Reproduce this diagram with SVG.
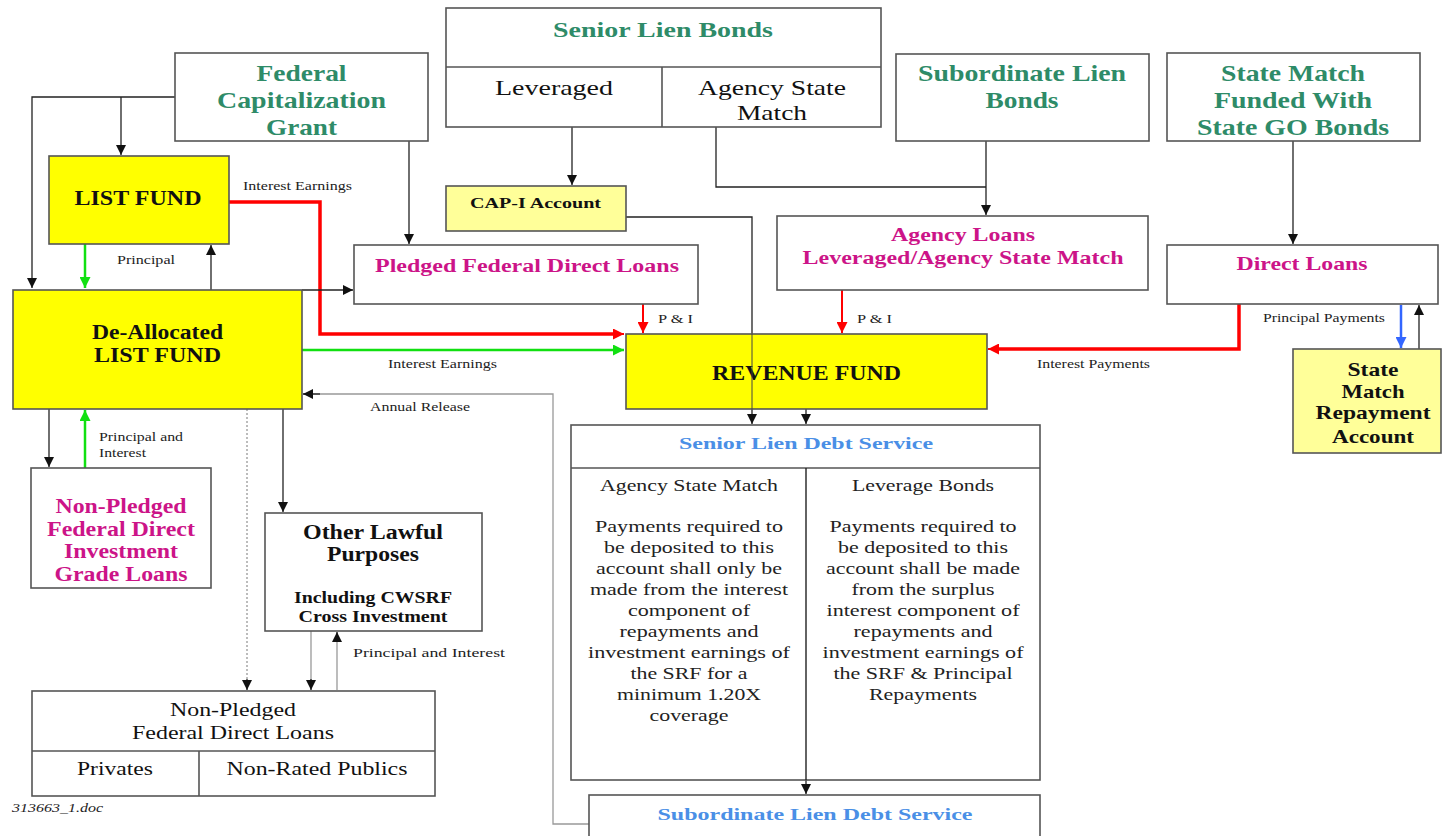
<svg xmlns="http://www.w3.org/2000/svg" width="1442" height="836" viewBox="0 0 1442 836">
<style>
.bx{fill:#fff;stroke:#555;stroke-width:1.6}
.yl{fill:#ffff00;stroke:#555;stroke-width:1.6}
.ly{fill:#ffff99;stroke:#555;stroke-width:1.6}
.dv{stroke:#555;stroke-width:1.6;fill:none}
text{font-family:"Liberation Serif","Times New Roman",serif}
.b{font-weight:bold}
.g{fill:#2e8b68}
.m{fill:#cc1488}
.bl{fill:#4a8fe6}
.k{fill:#111}
.s{font-size:12px;fill:#222}
.c{text-anchor:middle}
.p{font-size:16px;fill:#222;text-anchor:middle}
.ln{fill:none;stroke:#222;stroke-width:1.3}
.gr{fill:none;stroke:#999;stroke-width:1.3}
.rd{fill:none;stroke:#ff0000;stroke-width:2}
.rdt{fill:none;stroke:#ff0000;stroke-width:3.5}
.gn{fill:none;stroke:#11e011;stroke-width:2.5}
.bu{fill:none;stroke:#3366ff;stroke-width:2.5}
</style>
<defs>
<marker id="ak" viewBox="0 0 10 10" refX="10" refY="5" markerWidth="10" markerHeight="10" markerUnits="userSpaceOnUse" orient="auto"><path d="M0,0 L10,5 L0,10 z" fill="#111"/></marker>
<marker id="ar" viewBox="0 0 10 10" refX="10" refY="5" markerWidth="11" markerHeight="11" markerUnits="userSpaceOnUse" orient="auto"><path d="M0,0 L10,5 L0,10 z" fill="#ff0000"/></marker>
<marker id="ag" viewBox="0 0 10 10" refX="10" refY="5" markerWidth="11" markerHeight="11" markerUnits="userSpaceOnUse" orient="auto"><path d="M0,0 L10,5 L0,10 z" fill="#11e011"/></marker>
<marker id="ab" viewBox="0 0 10 10" refX="10" refY="5" markerWidth="11" markerHeight="11" markerUnits="userSpaceOnUse" orient="auto"><path d="M0,0 L10,5 L0,10 z" fill="#3366ff"/></marker>
</defs>
<rect width="1442" height="836" fill="#fff"/>

<g id="connectors">
<path class="ln" d="M175,97 H32 V288" marker-end="url(#ak)"/>
<path class="ln" d="M121,97 V155" marker-end="url(#ak)"/>
<path class="ln" d="M409,141 V244" marker-end="url(#ak)"/>
<path class="rdt" d="M229,202 H320 V334 H616"/>
<path class="rd" d="M612,334 H624" marker-end="url(#ar)"/>
<path class="gn" d="M85,244 V288" marker-end="url(#ag)"/>
<path class="ln" d="M211,290 V245" marker-end="url(#ak)"/>
<path class="ln" d="M302,290 H353" marker-end="url(#ak)"/>
<path class="ln" d="M572,127 V185" marker-end="url(#ak)"/>
<path class="ln" d="M716,127 V187 H986"/>
<path class="ln" d="M986,141 V215" marker-end="url(#ak)"/>
<path class="ln" d="M1293,141 V244" marker-end="url(#ak)"/>
<path class="ln" d="M626,217 H752 V424" marker-end="url(#ak)"/>
<path class="rd" d="M643,304 V333" marker-end="url(#ar)"/>
<path class="rd" d="M842,290 V333" marker-end="url(#ar)"/>
<path class="rdt" d="M1239,304 V349 H996"/>
<path class="rd" d="M1000,349 H988" marker-end="url(#ar)"/>
<path class="bu" d="M1401,305 V348" marker-end="url(#ab)"/>
<path class="ln" d="M1419,349 V305" marker-end="url(#ak)"/>
<path class="gn" d="M302,350 H624" marker-end="url(#ag)"/>
<path class="ln" d="M806,409 V424" marker-end="url(#ak)"/>
<path class="gr" d="M589,824 H553 V394 H303"/>
<path class="ln" d="M320,394 H303" marker-end="url(#ak)"/>
<path class="ln" d="M49,409 V467" marker-end="url(#ak)"/>
<path class="gn" d="M85,468 V410" marker-end="url(#ag)"/>
<path class="gr" d="M247,409 V680" stroke-dasharray="2,2"/>
<path class="ln" d="M247,679 V690" marker-end="url(#ak)"/>
<path class="ln" d="M283,409 V512" marker-end="url(#ak)"/>
<path class="gr" d="M311,631 V680"/>
<path class="ln" d="M311,679 V690" marker-end="url(#ak)"/>
<path class="gr" d="M337,690 V640"/>
<path class="ln" d="M337,642 V632" marker-end="url(#ak)"/>
<path class="ln" d="M806,780 V794" marker-end="url(#ak)"/>
</g>

<g id="federal-cap-grant">
<rect class="bx" x="175" y="53" width="253" height="88"/>
<text class="b g c" font-size="23" x="301.5" y="81" textLength="90" lengthAdjust="spacingAndGlyphs">Federal</text>
<text class="b g c" font-size="23" x="301.5" y="108" textLength="169" lengthAdjust="spacingAndGlyphs">Capitalization</text>
<text class="b g c" font-size="23" x="301.5" y="135" textLength="71" lengthAdjust="spacingAndGlyphs">Grant</text>
</g>

<g id="senior-lien-bonds">
<rect class="bx" x="446" y="8" width="435" height="119"/>
<path class="dv" d="M446,67 H881 M662,67 V127"/>
<text class="b g c" font-size="21" x="663" y="37" textLength="220" lengthAdjust="spacingAndGlyphs">Senior Lien Bonds</text>
<text class="k c" font-size="22" x="554" y="95" textLength="118" lengthAdjust="spacingAndGlyphs">Leveraged</text>
<text class="k c" font-size="22" x="772" y="95" textLength="148" lengthAdjust="spacingAndGlyphs">Agency State</text>
<text class="k c" font-size="22" x="772" y="120" textLength="70" lengthAdjust="spacingAndGlyphs">Match</text>
</g>

<g id="subordinate-lien-bonds">
<rect class="bx" x="896" y="54" width="253" height="87"/>
<text class="b g c" font-size="23" x="1022" y="81" textLength="208" lengthAdjust="spacingAndGlyphs">Subordinate Lien</text>
<text class="b g c" font-size="23" x="1022" y="108" textLength="73" lengthAdjust="spacingAndGlyphs">Bonds</text>
</g>

<g id="state-match-go">
<rect class="bx" x="1167" y="53" width="253" height="88"/>
<text class="b g c" font-size="23" x="1293" y="81" textLength="144" lengthAdjust="spacingAndGlyphs">State Match</text>
<text class="b g c" font-size="23" x="1293" y="108" textLength="158" lengthAdjust="spacingAndGlyphs">Funded With</text>
<text class="b g c" font-size="23" x="1293" y="135" textLength="192" lengthAdjust="spacingAndGlyphs">State GO Bonds</text>
</g>

<g id="list-fund">
<rect class="yl" x="49" y="156" width="180" height="88"/>
<text class="b k c" font-size="20" x="138" y="205" textLength="127" lengthAdjust="spacingAndGlyphs">LIST FUND</text>
</g>

<g id="cap-i">
<rect class="ly" x="446" y="186" width="180" height="45"/>
<text class="b k c" font-size="14" x="535.5" y="208" textLength="131" lengthAdjust="spacingAndGlyphs">CAP-I Account</text>
</g>

<g id="pledged">
<rect class="bx" x="354" y="245" width="344" height="59"/>
<text class="b m c" font-size="18" x="527" y="272" textLength="304" lengthAdjust="spacingAndGlyphs">Pledged Federal Direct Loans</text>
</g>

<g id="agency-loans">
<rect class="bx" x="777" y="216" width="371" height="74"/>
<text class="b m c" font-size="19" x="963" y="241" textLength="144" lengthAdjust="spacingAndGlyphs">Agency Loans</text>
<text class="b m c" font-size="19" x="963" y="264" textLength="321" lengthAdjust="spacingAndGlyphs">Leveraged/Agency State Match</text>
</g>

<g id="direct-loans">
<rect class="bx" x="1167" y="245" width="271" height="59"/>
<text class="b m c" font-size="19" x="1302" y="270" textLength="131" lengthAdjust="spacingAndGlyphs">Direct Loans</text>
</g>

<g id="de-allocated">
<rect class="yl" x="13" y="290" width="289" height="119"/>
<text class="b k c" font-size="20" x="157.5" y="339" textLength="131" lengthAdjust="spacingAndGlyphs">De-Allocated</text>
<text class="b k c" font-size="20" x="157.5" y="362" textLength="127" lengthAdjust="spacingAndGlyphs">LIST FUND</text>
</g>

<g id="revenue-fund">
<rect class="yl" x="626" y="334" width="361" height="75"/>
<text class="b k c" font-size="20" x="806.5" y="380" textLength="189" lengthAdjust="spacingAndGlyphs">REVENUE FUND</text>
</g>
<path d="M752,334 V409" stroke="#444" stroke-width="1" fill="none"/>

<g id="state-match-repayment">
<rect class="ly" x="1293" y="349" width="148" height="104"/>
<text class="b k c" font-size="19" x="1373" y="376" textLength="51" lengthAdjust="spacingAndGlyphs">State</text>
<text class="b k c" font-size="19" x="1373" y="398" textLength="63" lengthAdjust="spacingAndGlyphs">Match</text>
<text class="b k c" font-size="19" x="1373" y="419" textLength="115" lengthAdjust="spacingAndGlyphs">Repayment</text>
<text class="b k c" font-size="19" x="1373" y="443" textLength="82" lengthAdjust="spacingAndGlyphs">Account</text>
</g>

<g id="non-pledged-investment">
<rect class="bx" x="31" y="468" width="180" height="120"/>
<text class="b m c" font-size="20" x="121" y="513" textLength="131" lengthAdjust="spacingAndGlyphs">Non-Pledged</text>
<text class="b m c" font-size="20" x="121" y="536" textLength="148" lengthAdjust="spacingAndGlyphs">Federal Direct</text>
<text class="b m c" font-size="20" x="121" y="558" textLength="114" lengthAdjust="spacingAndGlyphs">Investment</text>
<text class="b m c" font-size="20" x="121" y="581" textLength="133" lengthAdjust="spacingAndGlyphs">Grade Loans</text>
</g>

<g id="other-lawful">
<rect class="bx" x="265" y="513" width="217" height="118"/>
<text class="b k c" font-size="20" x="373" y="539" textLength="140" lengthAdjust="spacingAndGlyphs">Other Lawful</text>
<text class="b k c" font-size="20" x="373" y="561" textLength="92" lengthAdjust="spacingAndGlyphs">Purposes</text>
<text class="b k c" font-size="16" x="373" y="603" textLength="158" lengthAdjust="spacingAndGlyphs">Including CWSRF</text>
<text class="b k c" font-size="16" x="373" y="622" textLength="149" lengthAdjust="spacingAndGlyphs">Cross Investment</text>
</g>

<g id="non-pledged-loans">
<rect class="bx" x="32" y="691" width="403" height="105"/>
<path class="dv" d="M32,751 H435 M199,751 V796"/>
<text class="k c" font-size="19" x="233" y="716" textLength="126" lengthAdjust="spacingAndGlyphs">Non-Pledged</text>
<text class="k c" font-size="19" x="233" y="739" textLength="202" lengthAdjust="spacingAndGlyphs">Federal Direct Loans</text>
<text class="k c" font-size="19" x="115" y="775" textLength="76" lengthAdjust="spacingAndGlyphs">Privates</text>
<text class="k c" font-size="19" x="317" y="775" textLength="181" lengthAdjust="spacingAndGlyphs">Non-Rated Publics</text>
</g>

<g id="senior-debt-service">
<rect class="bx" x="571" y="425" width="469" height="355"/>
<path class="dv" d="M571,468 H1040"/>
<path d="M806,468 V780" stroke="#222" stroke-width="1.4" fill="none"/>
<text class="b bl c" font-size="17" x="806" y="449" textLength="254" lengthAdjust="spacingAndGlyphs">Senior Lien Debt Service</text>
<text class="p" x="689" y="491" textLength="178" lengthAdjust="spacingAndGlyphs">Agency State Match</text>
<text class="p" x="689" y="532" textLength="188" lengthAdjust="spacingAndGlyphs">Payments required to</text>
<text class="p" x="689" y="553" textLength="170" lengthAdjust="spacingAndGlyphs">be deposited to this</text>
<text class="p" x="689" y="574" textLength="186" lengthAdjust="spacingAndGlyphs">account shall only be</text>
<text class="p" x="689" y="595" textLength="198" lengthAdjust="spacingAndGlyphs">made from the interest</text>
<text class="p" x="689" y="616" textLength="122" lengthAdjust="spacingAndGlyphs">component of</text>
<text class="p" x="689" y="637" textLength="139" lengthAdjust="spacingAndGlyphs">repayments and</text>
<text class="p" x="689" y="658" textLength="202" lengthAdjust="spacingAndGlyphs">investment earnings of</text>
<text class="p" x="689" y="679" textLength="117" lengthAdjust="spacingAndGlyphs">the SRF for a</text>
<text class="p" x="689" y="700" textLength="144" lengthAdjust="spacingAndGlyphs">minimum 1.20X</text>
<text class="p" x="689" y="721" textLength="79" lengthAdjust="spacingAndGlyphs">coverage</text>
<text class="p" x="923" y="491" textLength="142" lengthAdjust="spacingAndGlyphs">Leverage Bonds</text>
<text class="p" x="923" y="532" textLength="187" lengthAdjust="spacingAndGlyphs">Payments required to</text>
<text class="p" x="923" y="553" textLength="170" lengthAdjust="spacingAndGlyphs">be deposited to this</text>
<text class="p" x="923" y="574" textLength="194" lengthAdjust="spacingAndGlyphs">account shall be made</text>
<text class="p" x="923" y="595" textLength="143" lengthAdjust="spacingAndGlyphs">from the surplus</text>
<text class="p" x="923" y="616" textLength="193" lengthAdjust="spacingAndGlyphs">interest component of</text>
<text class="p" x="923" y="637" textLength="139" lengthAdjust="spacingAndGlyphs">repayments and</text>
<text class="p" x="923" y="658" textLength="201" lengthAdjust="spacingAndGlyphs">investment earnings of</text>
<text class="p" x="923" y="679" textLength="179" lengthAdjust="spacingAndGlyphs">the SRF &amp; Principal</text>
<text class="p" x="923" y="700" textLength="108" lengthAdjust="spacingAndGlyphs">Repayments</text>
</g>

<g id="subordinate-debt-service">
<rect class="bx" x="589" y="795" width="451" height="50"/>
<text class="b bl c" font-size="17" x="815" y="820" textLength="315" lengthAdjust="spacingAndGlyphs">Subordinate Lien Debt Service</text>
</g>

<g id="labels">
<text class="s" x="243" y="190" textLength="109" lengthAdjust="spacingAndGlyphs">Interest Earnings</text>
<text class="s" x="117" y="264" textLength="58" lengthAdjust="spacingAndGlyphs">Principal</text>
<text class="s" x="658" y="323" textLength="35" lengthAdjust="spacingAndGlyphs">P &amp; I</text>
<text class="s" x="857" y="323" textLength="35" lengthAdjust="spacingAndGlyphs">P &amp; I</text>
<text class="s" x="1263" y="322" textLength="122" lengthAdjust="spacingAndGlyphs">Principal Payments</text>
<text class="s" x="388" y="368" textLength="109" lengthAdjust="spacingAndGlyphs">Interest Earnings</text>
<text class="s" x="1037" y="368" textLength="113" lengthAdjust="spacingAndGlyphs">Interest Payments</text>
<text class="s" x="370" y="411" textLength="100" lengthAdjust="spacingAndGlyphs">Annual Release</text>
<text class="s" x="99" y="441" textLength="84" lengthAdjust="spacingAndGlyphs">Principal and</text>
<text class="s" x="99" y="457" textLength="47" lengthAdjust="spacingAndGlyphs">Interest</text>
<text class="s" x="353" y="657" font-size="13" textLength="152" lengthAdjust="spacingAndGlyphs">Principal and Interest</text>
<text x="12" y="812" font-size="12" font-style="italic" fill="#222" textLength="91" lengthAdjust="spacingAndGlyphs">313663_1.doc</text>
</g>
</svg>
